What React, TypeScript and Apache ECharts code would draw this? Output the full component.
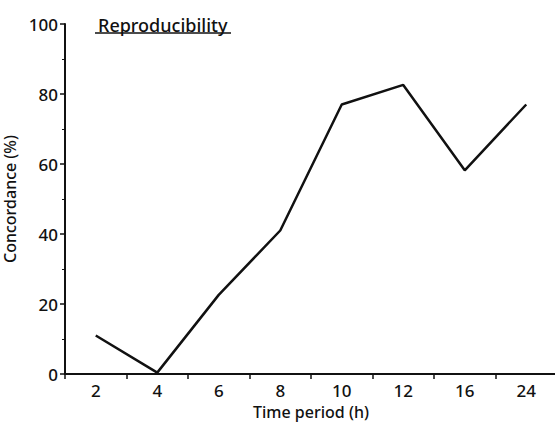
import React, { useEffect, useRef } from "react";
import * as echarts from "echarts";

const categories = ["2", "4", "6", "8", "10", "12", "16", "24"];
const concordance = [11, 0.4, 22.6, 41, 77, 82.6, 58.2, 77];
const yTicks = { min: 0, max: 100, interval: 20 };

const FONT = "'Noto Sans', sans-serif";

export default function App() {
  const ref = useRef<HTMLDivElement>(null);
  useEffect(() => {
    if (!ref.current) return;
    const chart = echarts.init(ref.current, undefined, { renderer: "svg" });
    chart.setOption({
      animation: false,
      backgroundColor: "#ffffff",
      title: {
        text: "Reproducibility",
        left: 93,
        top: 11,
        textStyle: { fontFamily: FONT, fontSize: 18, fontWeight: 500, color: "#111" },
      },
      graphic: [
        {
          type: "line",
          shape: { x1: 95, y1: 33, x2: 231, y2: 33 },
          style: { stroke: "#111", lineWidth: 1.5 },
        },
      ],
      grid: { left: 65, top: 24, width: 492, bottom: 49, containLabel: false, outerBoundsMode: "none" },
      xAxis: {
        type: "category",
        data: categories,
        boundaryGap: true,
        name: "Time period (h)",
        nameLocation: "middle",
        nameGap: 25,
        nameTextStyle: { fontFamily: FONT, fontSize: 16, fontWeight: 500, color: "#111" },
        axisLine: { lineStyle: { color: "#111", width: 2 } },
        axisTick: { show: true, length: 5, lineStyle: { color: "#111", width: 1.5 } },
        axisLabel: { fontFamily: FONT, fontSize: 17, fontWeight: 500, color: "#111", margin: 8 },
        splitLine: { show: false },
      },
      yAxis: {
        type: "value",
        min: yTicks.min,
        max: yTicks.max,
        interval: yTicks.interval,
        name: "Concordance (%)",
        nameLocation: "middle",
        nameGap: 30,
        nameTextStyle: { fontFamily: FONT, fontSize: 16, fontWeight: 500, color: "#111" },
        axisLine: { show: true, lineStyle: { color: "#111", width: 2 } },
        axisTick: { show: true, length: 5, lineStyle: { color: "#111", width: 1.5 } },
        minorTick: { show: true, splitNumber: 2, length: 3, lineStyle: { color: "#111", width: 1 } },
        axisLabel: { fontFamily: FONT, fontSize: 17, fontWeight: 500, color: "#111", margin: 7 },
        splitLine: { show: false },
      },
      series: [
        {
          type: "line",
          data: concordance,
          showSymbol: false,
          symbol: "none",
          lineStyle: { color: "#111", width: 2.5 },
        },
      ],
    });
    return () => chart.dispose();
  }, []);
  return (
    <div
      ref={ref}
      style={{ position: "absolute", left: 0, top: 0, width: 555, height: 423 }}
    />
  );
}
